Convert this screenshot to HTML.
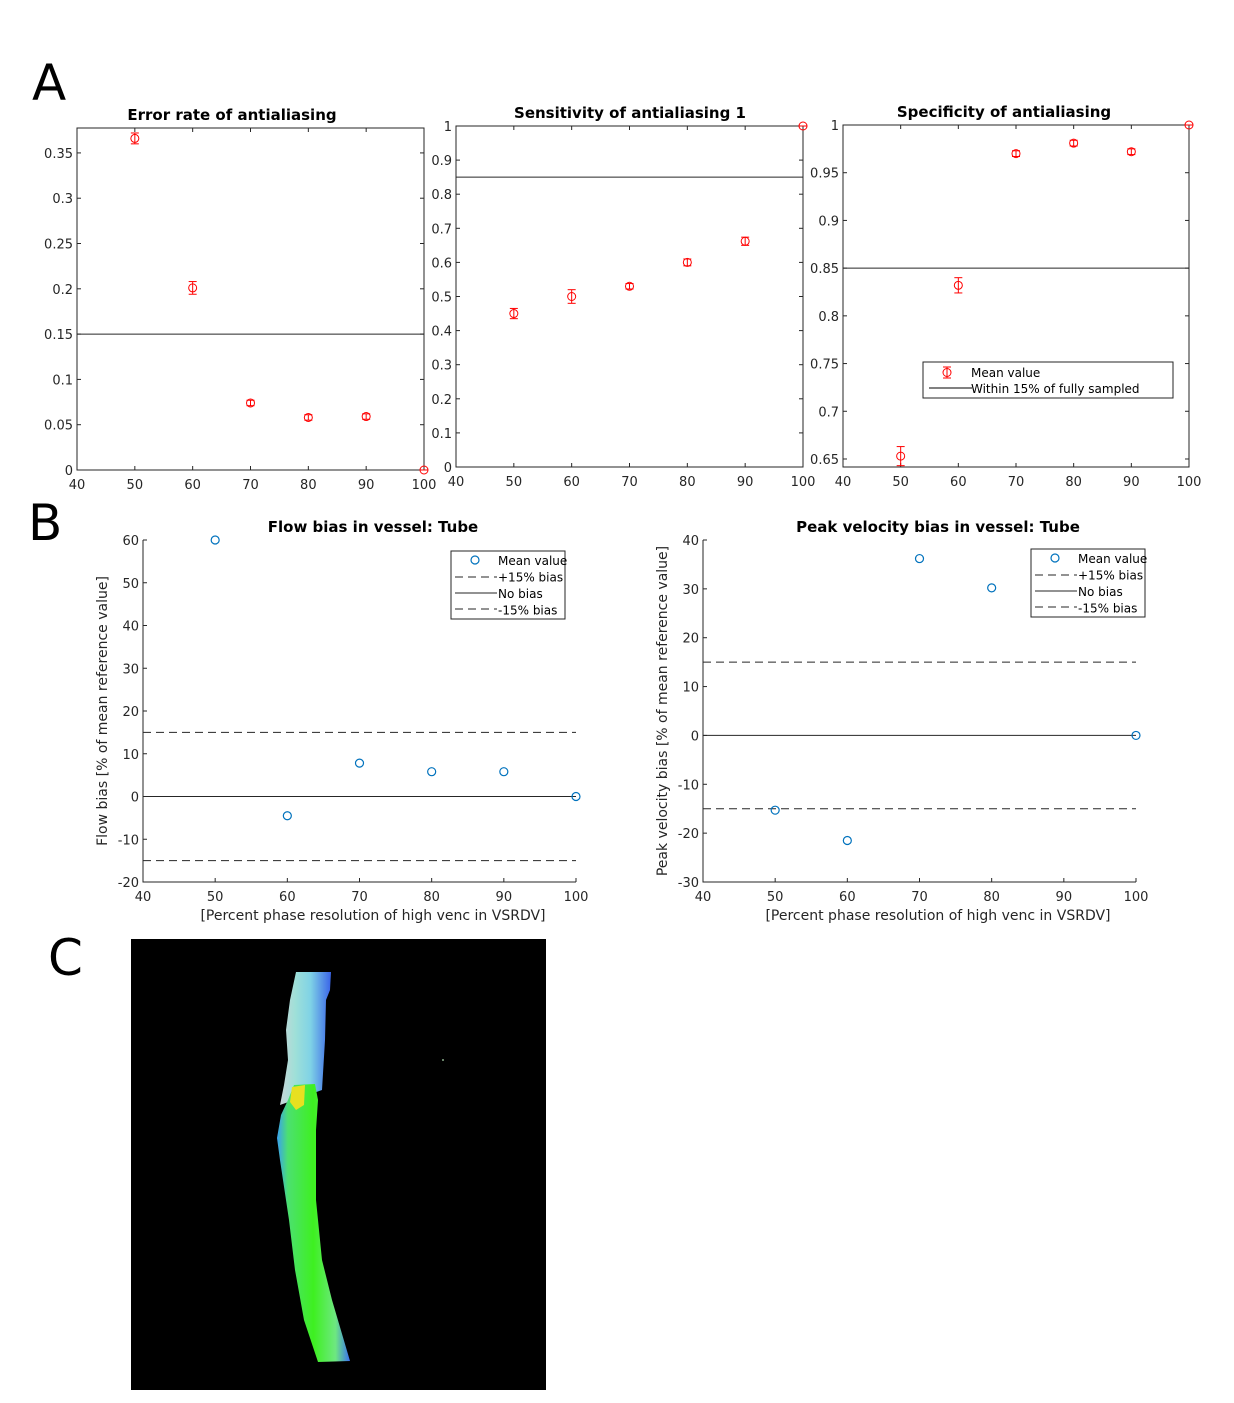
<!DOCTYPE html>
<html><head><meta charset="utf-8">
<style>
html,body{margin:0;padding:0;background:#fff;}
body{width:1234px;height:1403px;position:relative;overflow:hidden;font-family:"DejaVu Sans","Liberation Sans",sans-serif;}
svg{position:absolute;left:0;top:0;}
</style></head>
<body>
<svg id="fig" width="1234" height="1403" viewBox="0 0 1234 1403"
 font-family="DejaVu Sans, Liberation Sans, sans-serif">
<text x="32" y="100" font-size="50">A</text>
<text x="28" y="540" font-size="50">B</text>
<text x="48" y="975" font-size="50">C</text>
<g id="charts"></g>
<g>
<defs>
<linearGradient id="gTop" x1="0" y1="0" x2="1" y2="0">
<stop offset="0" stop-color="#c8d6d8"/><stop offset="0.3" stop-color="#9fe0d8"/><stop offset="0.6" stop-color="#7fd2e6"/><stop offset="1" stop-color="#3a64e8"/>
</linearGradient>
<linearGradient id="gBot" x1="0" y1="0" x2="1" y2="0">
<stop offset="0" stop-color="#3aa0f0"/><stop offset="0.15" stop-color="#4ce070"/><stop offset="0.5" stop-color="#3ef020"/><stop offset="0.8" stop-color="#6ee880"/><stop offset="1" stop-color="#3a70f0"/>
</linearGradient>
</defs>
<rect x="131" y="939" width="415" height="451" fill="#000"/>
<path d="M296,972 L331,972 L330,990 L326,1000 L325,1040 L322,1090 L280,1105 L284,1085 L288,1060 L286,1030 L290,1000 Z" fill="url(#gTop)"/>
<path d="M294,1085 L315,1084 L318,1100 L316,1130 L316,1200 L322,1260 L332,1300 L350,1361 L318,1362 L304,1320 L295,1270 L289,1220 L280,1160 L277,1138 L281,1115 L288,1100 Z" fill="url(#gBot)"/>
<path d="M292,1087 L305,1085 L304,1105 L296,1110 L290,1102 Z" fill="#e8e020"/>
<circle cx="443" cy="1060" r="1" fill="#8a8"/>
</g>
</svg>
<script>
// ---- data ----
const xCats = [50, 60, 70, 80, 90, 100];
const errMean = [0.366, 0.201, 0.074, 0.058, 0.059, 0];
const errErr = [0.006, 0.007, 0.003, 0.003, 0.003, 0];
const sensMean = [0.45, 0.50, 0.53, 0.60, 0.662, 1.0];
const sensErr = [0.015, 0.02, 0.008, 0.01, 0.012, 0];
const specMean = [0.653, 0.832, 0.970, 0.981, 0.972, 1.0];
const specErr = [0.010, 0.008, 0.003, 0.003, 0.003, 0];
const xTicks = [40, 50, 60, 70, 80, 90, 100];
const errTicks = [0, 0.05, 0.1, 0.15, 0.2, 0.25, 0.3, 0.35];
const errTickLabels = ["0","0.05","0.1","0.15","0.2","0.25","0.3","0.35"];
const sensTicks = [0, 0.1, 0.2, 0.3, 0.4, 0.5, 0.6, 0.7, 0.8, 0.9, 1];
const sensTickLabels = ["0","0.1","0.2","0.3","0.4","0.5","0.6","0.7","0.8","0.9","1"];
const specTicks = [0.65, 0.7, 0.75, 0.8, 0.85, 0.9, 0.95, 1];
const specTickLabels = ["0.65","0.7","0.75","0.8","0.85","0.9","0.95","1"];
const flowX = [50, 60, 70, 80, 90, 100];
const flowBias = [60, -4.5, 7.8, 5.8, 5.8, 0];
const flowTicks = [-20, -10, 0, 10, 20, 30, 40, 50, 60];
const peakX = [50, 60, 70, 80, 100];
const peakBias = [-15.3, -21.5, 36.2, 30.2, 0];
const peakTicks = [-30, -20, -10, 0, 10, 20, 30, 40];

const NS = "http://www.w3.org/2000/svg";
const root = document.getElementById('charts');
function el(tag, attrs, parent, txt) {
  const e = document.createElementNS(NS, tag);
  for (const k in attrs) e.setAttribute(k, attrs[k]);
  if (txt !== undefined) e.textContent = txt;
  (parent || root).appendChild(e);
  return e;
}
function axes(o) {
  const g = el('g', {});
  
  
  const sx = v => o.x0 + (v - o.xmin) / (o.xmax - o.xmin) * (o.x1 - o.x0);
  const sy = v => o.y1 - (v - o.ymin) / (o.ymax - o.ymin) * (o.y1 - o.y0);
  const t = el('text', {x: o.tx, y: o.y0 - 8, 'font-size': 15, 'font-weight': 'bold', 'text-anchor': 'middle', fill: '#000'}, g, o.title);
  
  
  if (o.box) {
    el('rect', {x: o.x0, y: o.y0, width: o.x1 - o.x0, height: o.y1 - o.y0, fill: 'none', stroke: '#262626', 'stroke-width': 1}, g);
  } else {
    el('path', {d: `M${o.x0},${o.y0}V${o.y1}H${o.x1}`, fill: 'none', stroke: '#262626', 'stroke-width': 1}, g);
  }
  o.xticks.forEach(v => {
    const x = sx(v);
    el('line', {x1: x, x2: x, y1: o.y1, y2: o.y1 - 4, stroke: '#262626'}, g);
    if (o.box) el('line', {x1: x, x2: x, y1: o.y0, y2: o.y0 + 4, stroke: '#262626'}, g);
    const tl = el('text', {x: x, y: o.y1 + 19, 'font-size': 13, 'text-anchor': 'middle', fill: '#262626'}, g, String(v));
    
    
  });
  o.yticks.forEach((v, i) => {
    const y = sy(v);
    el('line', {x1: o.x0, x2: o.x0 + 4, y1: y, y2: y, stroke: '#262626'}, g);
    if (o.box) el('line', {x1: o.x1, x2: o.x1 - 4, y1: y, y2: y, stroke: '#262626'}, g);
    const tl = el('text', {x: o.x0 - 4, y: y + 5, 'font-size': 13, 'text-anchor': 'end', fill: '#262626'}, g, o.ylabels ? o.ylabels[i] : String(v));
    
    
  });
  if (o.xlabel) {
    const xl = el('text', {x: o.tx, y: o.y1 + 38, 'font-size': 14, 'text-anchor': 'middle', fill: '#262626'}, g, o.xlabel);
    
    
  }
  if (o.ylabel) {
    const cx = o.x0 - 36, cy = (o.y0 + o.y1) / 2;
    const yl = el('text', {x: cx, y: cy, 'font-size': 14, 'text-anchor': 'middle', fill: '#262626', transform: `rotate(-90 ${cx} ${cy})`}, g, o.ylabel);
    
    
  }
  return {g, sx, sy};
}
function errChart(o, means, errs, ref) {
  const a = axes(o);
  const rl = el('line', {x1: o.x0, x2: o.x1, y1: a.sy(ref), y2: a.sy(ref), stroke: '#262626', 'stroke-width': 1}, a.g);
  
  
  xCats.forEach((c, i) => {
    const x = a.sx(c), y = a.sy(means[i]);
    const yt = a.sy(means[i] + errs[i]), yb = a.sy(means[i] - errs[i]);
    const pg = el('g', {stroke: '#ff0000', fill: 'none', 'stroke-width': 1}, a.g);
    
    
    el('line', {x1: x, x2: x, y1: yt, y2: yb}, pg);
    el('line', {x1: x - 4, x2: x + 4, y1: yt, y2: yt}, pg);
    el('line', {x1: x - 4, x2: x + 4, y1: yb, y2: yb}, pg);
    el('circle', {cx: x, cy: y, r: 4}, pg);
  });
  return a;
}
errChart({name: 'error-rate-chart', title: 'Error rate of antialiasing', tx: 232, x0: 77, x1: 424, y0: 128, y1: 470, xmin: 40, xmax: 100, ymin: 0, ymax: 0.3775, xticks: xTicks, yticks: errTicks, ylabels: errTickLabels, box: true}, errMean, errErr, 0.15);
errChart({name: 'sensitivity-chart', title: 'Sensitivity of antialiasing 1', tx: 630, x0: 456, x1: 803, y0: 126, y1: 467, xmin: 40, xmax: 100, ymin: 0, ymax: 1, xticks: xTicks, yticks: sensTicks, ylabels: sensTickLabels, box: true}, sensMean, sensErr, 0.85);
const spec = errChart({name: 'specificity-chart', title: 'Specificity of antialiasing', tx: 1004, x0: 843, x1: 1189, y0: 125, y1: 467, xmin: 40, xmax: 100, ymin: 0.6416, ymax: 1, xticks: xTicks, yticks: specTicks, ylabels: specTickLabels, box: true}, specMean, specErr, 0.85);
// legend for specificity
(function () {
  const lg = el('g', {}, spec.g);
  
  
  el('rect', {x: 923, y: 362, width: 250, height: 36, fill: '#fff', stroke: '#262626'}, lg);
  const m = el('g', {stroke: '#f00', fill: 'none'}, lg);
  el('line', {x1: 947, x2: 947, y1: 367, y2: 378}, m);
  el('line', {x1: 943, x2: 951, y1: 367, y2: 367}, m);
  el('line', {x1: 943, x2: 951, y1: 378, y2: 378}, m);
  el('circle', {cx: 947, cy: 372.5, r: 4}, m);
  el('line', {x1: 929, x2: 972, y1: 388, y2: 388, stroke: '#000'}, lg);
  const t1 = el('text', {x: 971, y: 377, 'font-size': 12, fill: '#000'}, lg, 'Mean value');
  
  
  const t2 = el('text', {x: 971, y: 393, 'font-size': 12, fill: '#000'}, lg, 'Within 15% of fully sampled');
  
  
})();

function biasChart(o, xs, ys, lx, ly) {
  const a = axes(o);
  [[15, '8,5'], [0, null], [-15, '8,5']].forEach(([v, d]) => {
    const ln = el('line', {x1: o.x0, x2: o.x1, y1: a.sy(v), y2: a.sy(v), stroke: '#262626', 'stroke-width': 1}, a.g);
    if (d) ln.setAttribute('stroke-dasharray', d);
    
    
  });
  xs.forEach((c, i) => {
    const p = el('circle', {cx: a.sx(c), cy: a.sy(ys[i]), r: 4, fill: 'none', stroke: '#0072bd', 'stroke-width': 1.2}, a.g);
    
    
  });
  const lg = el('g', {}, a.g);
  
  
  el('rect', {x: lx, y: ly, width: 114, height: 68, fill: '#fff', stroke: '#262626'}, lg);
  el('circle', {cx: lx + 24, cy: ly + 9, r: 4, fill: 'none', stroke: '#0072bd', 'stroke-width': 1.2}, lg);
  el('line', {x1: lx + 4, x2: lx + 46, y1: ly + 26, y2: ly + 26, stroke: '#262626', 'stroke-dasharray': '8,5'}, lg);
  el('line', {x1: lx + 4, x2: lx + 46, y1: ly + 42, y2: ly + 42, stroke: '#262626'}, lg);
  el('line', {x1: lx + 4, x2: lx + 46, y1: ly + 58, y2: ly + 58, stroke: '#262626', 'stroke-dasharray': '8,5'}, lg);
  ['Mean value', '+15% bias', 'No bias', '-15% bias'].forEach((s, i) => {
    const t = el('text', {x: lx + 47, y: ly + 14 + i * 16.5, 'font-size': 12, fill: '#000'}, lg, s);
    
    
  });
}
biasChart({name: 'flow-bias-chart', title: 'Flow bias in vessel: Tube', tx: 373, x0: 143, x1: 576, y0: 540, y1: 882, xmin: 40, xmax: 100, ymin: -20, ymax: 60, xticks: xTicks, yticks: flowTicks, box: false, xlabel: '[Percent phase resolution of high venc in VSRDV]', ylabel: 'Flow bias [% of mean reference value]'}, flowX, flowBias, 451, 551);
biasChart({name: 'peak-velocity-bias-chart', title: 'Peak velocity bias in vessel: Tube', tx: 938, x0: 703, x1: 1136, y0: 540, y1: 882, xmin: 40, xmax: 100, ymin: -30, ymax: 40, xticks: xTicks, yticks: peakTicks, box: false, xlabel: '[Percent phase resolution of high venc in VSRDV]', ylabel: 'Peak velocity bias [% of mean reference value]'}, peakX, peakBias, 1031, 549);
</script>
</body></html>
